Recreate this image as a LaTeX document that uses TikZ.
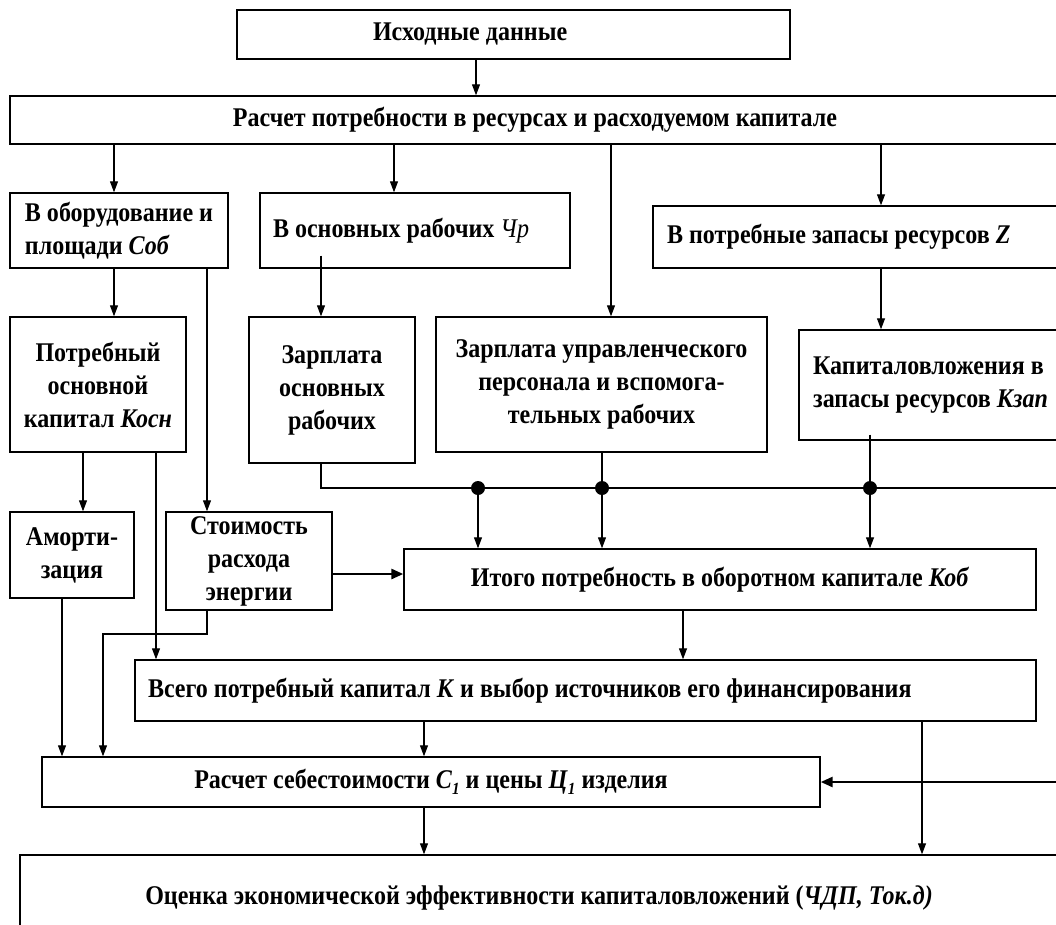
\documentclass[tikz,border=0pt]{standalone}
\usepackage{fontspec}
\setmainfont{Liberation Serif}[FakeStretch=0.89]
\usetikzlibrary{arrows.meta}
\begin{document}
\begin{tikzpicture}[x=1pt,y=-1pt,
  box/.style={draw, line width=1.4pt, inner sep=0pt, align=center,
    font=\fontsize{27}{33}\selectfont\bfseries},
  ln/.style={line width=1.1pt},
  arr/.style={line width=1.1pt, -{Triangle[length=11pt,width=8pt]}},
  tarr/.style={line width=2.6pt, -{Triangle[length=12pt,width=10pt]}},
  dot/.style={circle, fill=black, inner sep=0pt, minimum size=14pt}]
\useasboundingbox (0,0) rectangle (1056,924);
\clip (0,0) rectangle (1056,924);
\fill[white] (0,0) rectangle (1056,924);
% boxes
\node[box, minimum width=553, minimum height=49] (isx) at (513.5,34.5) {\makebox[281pt][l]{Исходные данные}};
\node[box, minimum width=1050, minimum height=48] (ras) at (535,120) {Расчет потребности в ресурсах и расходуемом капитале};
\node[box, minimum width=218, minimum height=75, align=left] (ob) at (119,230.5) {В оборудование и\\площади \textit{Соб}};
\node[box, minimum width=310, minimum height=75] (chr) at (415,230.5) {\makebox[284pt][l]{В основных рабочих {\mdseries\itshape Чр}}};
\node[box, minimum width=409, minimum height=62] (zz) at (857.5,237) {\makebox[381pt][l]{В потребные запасы ресурсов \textit{Z}}};
\node[box, minimum width=176, minimum height=135] (kosn) at (98,384.5) {Потребный\\основной\\капитал \textit{Косн}};
\node[box, minimum width=166, minimum height=146] (zo) at (332,390) {Зарплата\\основных\\рабочих};
\node[box, minimum width=331, minimum height=135] (zu) at (601.5,384.5) {Зарплата управленческого\\персонала и вспомога-\\тельных рабочих};
\node[box, minimum width=263, minimum height=110, align=left] (kz) at (930.5,385) {Капиталовложения в\\запасы ресурсов \textit{Кзап}};
\node[box, minimum width=124, minimum height=86] (am) at (72,555) {Аморти-\\зация};
\node[box, minimum width=166, minimum height=98] (st) at (249,561) {Стоимость\\расхода\\энергии};
\node[box, minimum width=632, minimum height=61] (itogo) at (720,579.5) {Итого потребность в оборотном капитале \textit{Коб}};
\node[box, minimum width=901, minimum height=61] (vs) at (585.5,690.5) {\makebox[875pt][l]{Всего потребный капитал \textit{К} и выбор источников его финансирования}};
\node[box, minimum width=778, minimum height=50] (rs) at (431,782) {Расчет себестоимости \textit{С}\raisebox{-6pt}{\textit{\fontsize{17}{17}\selectfont 1}} и цены \textit{Ц}\raisebox{-6pt}{\textit{\fontsize{17}{17}\selectfont 1}} изделия};
\node[box, minimum width=1038, minimum height=85] (oc) at (539,897.5) {Оценка экономической эффективности капиталовложений (\textit{ЧДП, Ток.д)}};
% column coordinates
\coordinate (c476) at (476,0);
\coordinate (c114) at (114,0);
\coordinate (c394) at (394,0);
\coordinate (c611) at (611,0);
\coordinate (c881) at (881,0);
\coordinate (c207) at (207,0);
\coordinate (c321) at (321,0);
\coordinate (c83) at (83,0);
\coordinate (c156) at (156,0);
\coordinate (c62) at (62,0);
\coordinate (c103) at (103,0);
\coordinate (c478) at (478,0);
\coordinate (c602) at (602,0);
\coordinate (c870) at (870,0);
\coordinate (c683) at (683,0);
\coordinate (c424) at (424,0);
\coordinate (c922) at (922,0);
\coordinate (busR) at (1070,488);
\coordinate (stbend) at (103,634);
\coordinate (y574) at (0,574);
\coordinate (rin) at (1070,782);
% dots
\node[dot] (d1) at (478,488) {};
\node[dot] (d2) at (602,488) {};
\node[dot] (d3) at (870,488) {};
% connectors
\draw[arr] (c476 |- isx.south) -- (c476 |- ras.north);
\draw[arr] (c114 |- ras.south) -- (c114 |- ob.north);
\draw[arr] (c394 |- ras.south) -- (c394 |- chr.north);
\draw[arr] (c611 |- ras.south) -- (c611 |- zu.north);
\draw[arr] (c881 |- ras.south) -- (c881 |- zz.north);
\draw[arr] (c114 |- ob.south) -- (c114 |- kosn.north);
\draw[arr] (c207 |- ob.south) -- (c207 |- st.north);
\draw[arr] ([yshift=13pt]c321 |- chr.south) -- (c321 |- zo.north);
\draw[arr] (c881 |- zz.south) -- (c881 |- kz.north);
\draw[arr] (c83 |- kosn.south) -- (c83 |- am.north);
\draw[arr] (c156 |- kosn.south) -- (c156 |- vs.north);
\draw[arr] (c62 |- am.south) -- (c62 |- rs.north);
\draw[arr] (c207 |- st.south) |- (stbend) -- (c103 |- rs.north);
\draw[tarr] (st.east |- y574) -- (itogo.west |- y574);
\draw[ln] (c321 |- zo.south) |- (busR);
\draw[arr] (d1) -- (c478 |- itogo.north);
\draw[ln] (c602 |- zu.south) -- (d2);
\draw[arr] (d2) -- (c602 |- itogo.north);
\draw[ln] ([yshift=6pt]c870 |- kz.south) -- (d3);
\draw[arr] (d3) -- (c870 |- itogo.north);
\draw[arr] (c683 |- itogo.south) -- (c683 |- vs.north);
\draw[arr] (c424 |- vs.south) -- (c424 |- rs.north);
\draw[arr] (c922 |- vs.south) -- (c922 |- oc.north);
\draw[tarr] (rin) -- (rs.east);
\draw[arr] (c424 |- rs.south) -- (c424 |- oc.north);
\end{tikzpicture}
\end{document}
